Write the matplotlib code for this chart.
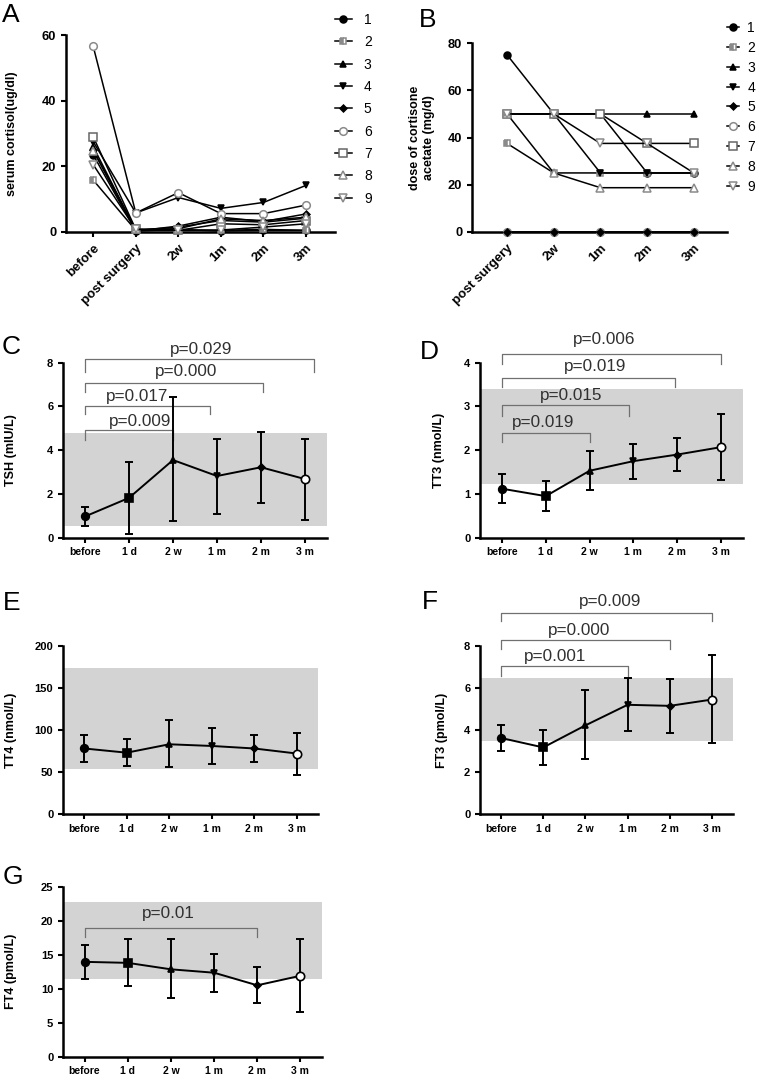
import numpy as np
import matplotlib
matplotlib.use("Agg")
import matplotlib.pyplot as plt

plt.rcParams['font.family'] = ['Liberation Sans', 'DejaVu Sans']

# ---------------- data ----------------
cortisol_times = ["before", "post surgery", "2w", "1m", "2m", "3m"]
cortisol = [
    [23.5, 0.3, 0.8, 0.3, 0.5, 0.5],     # 1
    [15.8, 0.5, 0.5, 0.5, 0.8, 0.5],     # 2
    [26.0, 0.5, 1.5, 3.5, 3.0, 4.2],     # 3
    [27.5, 5.8, 10.5, 7.2, 9.0, 14.2],   # 4
    [25.0, 0.3, 1.8, 4.5, 3.2, 5.5],     # 5
    [56.5, 5.8, 12.0, 5.6, 5.6, 8.2],    # 6
    [29.0, 0.8, 0.5, 2.5, 2.2, 3.5],     # 7
    [24.8, 0.8, 1.0, 4.0, 3.5, 4.5],     # 8
    [20.5, 0.8, 0.5, 0.6, 1.5, 2.5],     # 9
]
patients = ["1", "2", "3", "4", "5", "6", "7", "8", "9"]

dose_times = ["post surgery", "2w", "1m", "2m", "3m"]
dose = [
    [75, 50, 50, 25, 25],
    [37.5, 25, 25, 25, 25],
    [50, 50, 50, 50, 50],
    [50, 50, 25, 25, 25],
    [0, 0, 0, 0, 0],
    [0, 0, 0, 0, 0],
    [50, 50, 50, 37.5, 37.5],
    [50, 25, 18.75, 18.75, 18.75],
    [50, 50, 37.5, 37.5, 25],
]

thyroid_times = ["before", "1 d", "2 w", "1 m", "2 m", "3 m"]

tsh_mean = [0.97, 1.82, 3.55, 2.82, 3.22, 2.68]
tsh_hi = [1.42, 3.45, 6.45, 4.52, 4.85, 4.52]
tsh_lo = [0.52, 0.18, 0.75, 1.07, 1.60, 0.83]
tsh_ref = [0.55, 4.78]
tsh_p = ["p=0.009", "p=0.017", "p=0.000", "p=0.029"]
tsh_p_end = [2, 2.85, 4.05, 5.2]

tt3_mean = [1.12, 0.95, 1.53, 1.75, 1.90, 2.07]
tt3_hi = [1.45, 1.30, 1.98, 2.15, 2.28, 2.82]
tt3_lo = [0.80, 0.62, 1.10, 1.35, 1.53, 1.33]
tt3_ref = [1.23, 3.40]
tt3_p = ["p=0.019", "p=0.015", "p=0.019", "p=0.006"]
tt3_p_end = [2, 2.9, 3.95, 5]

tt4_mean = [78, 73, 83, 81, 78, 72]
tt4_hi = [94, 89, 112, 102, 94, 96]
tt4_lo = [62, 57, 55.5, 60, 62, 47]
tt4_ref = [54, 174]

ft3_mean = [3.62, 3.17, 4.22, 5.20, 5.15, 5.45]
ft3_hi = [4.25, 3.98, 5.92, 6.48, 6.45, 7.55]
ft3_lo = [3.02, 2.35, 2.60, 3.93, 3.87, 3.37]
ft3_ref = [3.5, 6.5]
ft3_p = ["p=0.001", "p=0.000", "p=0.009"]
ft3_p_end = [3, 4, 5]

ft4_mean = [13.95, 13.8, 12.85, 12.35, 10.5, 11.9]
ft4_hi = [16.5, 17.3, 17.25, 15.1, 13.2, 17.25]
ft4_lo = [11.4, 10.4, 8.65, 9.55, 7.85, 6.6]
ft4_ref = [11.5, 22.7]
ft4_p = ["p=0.01"]
ft4_p_end = [4]

# bracket layout: (top, tick bottom, text x, text y)
tsh_br = [(4.92, 4.47, 1.25, 5.33), (6.02, 5.64, 1.18, 6.45),
          (7.06, 6.68, 2.3, 7.62), (8.16, 7.59, 2.65, 8.61)]
tt3_br = [(2.40, 2.19, 0.95, 2.63), (3.04, 2.78, 1.58, 3.26),
          (3.66, 3.45, 2.13, 3.92), (4.21, 3.98, 2.34, 4.53)]
ft3_br = [(7.04, 6.56, 1.28, 7.48), (8.30, 7.88, 1.85, 8.75),
          (9.59, 9.19, 2.58, 10.14)]
ft4_br = [(18.97, 17.55, 1.95, 21.1)]

W, H = 762, 1082
GREY = '#8a8a8a'
BAND = '#d3d3d3'

# marker style per patient
pat_style = [
    dict(marker='o', mfc='k', mec='k', ms=5),
    dict(marker='s', mfc=GREY, mfcalt='white', fillstyle='left', mec=GREY, ms=4.5),
    dict(marker='^', mfc='k', mec='k', ms=5),
    dict(marker='v', mfc='k', mec='k', ms=5),
    dict(marker='D', mfc='k', mec='k', ms=3.5),
    dict(marker='o', mfc='white', mec=GREY, ms=5.5),
    dict(marker='s', mfc='white', mec='#666666', ms=5.5),
    dict(marker='^', mfc='white', mec=GREY, ms=5.5),
    dict(marker='v', mfc='white', mec=GREY, ms=5.5),
]


def px_axes(fig, left, top, right, bottom):
    return fig.add_axes([left / W, 1 - bottom / H, (right - left) / W, (bottom - top) / H])


def style(ax, yticks, ylabel, label_x, ysize=8):
    for s in ['top', 'right']:
        ax.spines[s].set_visible(False)
    for s in ['left', 'bottom']:
        ax.spines[s].set_linewidth(1.8)
    ax.tick_params(width=1.5, length=3.5)
    ax.set_yticks(yticks, labels=[str(v) for v in yticks], fontweight='bold', fontsize=ysize)
    ax.set_ylim(yticks[0], yticks[-1])
    ax.set_ylabel(ylabel, fontsize=9, fontweight='bold')
    ax.yaxis.set_label_coords(label_x, 0.5)


def thyroid(ax, mean, lo, hi, ref, yticks, ylabel, label_x, pvals=(), ends=(), br=()):
    x = np.arange(len(mean))
    mean = np.array(mean)
    yerr = [mean - np.array(lo), np.array(hi) - mean]
    ax.axhspan(ref[0], ref[1], color=BAND, lw=0, zorder=0)
    ax.errorbar(x, mean, yerr=yerr, fmt='-', color='k', lw=1.4, elinewidth=1.4,
                capsize=3, capthick=1.4, zorder=3, clip_on=False)
    mk = ['o', 's', '^', 'v', 'D', 'o']
    fc = ['k', 'k', 'k', 'k', 'k', 'white']
    ms = [5.5, 5.5, 5, 5, 3.5, 6]
    for i in range(len(mean)):
        ax.plot(x[i], mean[i], marker=mk[i], mfc=fc[i], mec='k', mew=1.2, ms=ms[i], zorder=4)
    for p, e, (top, bot, tx, ty) in zip(pvals, ends, br):
        ax.plot([0, 0, e, e], [bot, top, top, bot], color='#707070', lw=0.9, clip_on=False)
        ax.text(tx, ty, p, ha='center', va='center', fontsize=12.3, color='#303030')
    ax.set_xlim(-0.5, 5.5)
    ax.set_xticks(x, labels=thyroid_times, fontweight='bold', fontsize=7.5)
    style(ax, yticks, ylabel, label_x)


fig = plt.figure(figsize=(W / 100, H / 100), dpi=100)

# A
axA = px_axes(fig, 66, 35, 335, 232)
for i, vals in enumerate(cortisol):
    axA.plot(range(6), vals, color='k', lw=1.1, mew=1.1, clip_on=False,
             label=patients[i], zorder=3, **pat_style[i])
axA.set_xlim(-0.64, 5.68)
axA.set_xticks(range(6), labels=cortisol_times, rotation=45, ha='right',
               rotation_mode='anchor', fontweight='bold', fontsize=9.5)
style(axA, [0, 20, 40, 60], 'serum cortisol(ug/dl)', -0.178, ysize=9.3)
axA.legend(loc='upper left', bbox_to_anchor=(335 / W, 1 - 13 / H), bbox_transform=fig.transFigure,
           frameon=False, fontsize=10, handlelength=1.22, handletextpad=0.86,
           labelspacing=0.6, borderaxespad=0, borderpad=0)

# B
axB = px_axes(fig, 472, 43, 727, 232)
for i, vals in enumerate(dose):
    # patient 5 (black diamond) sits on top of the zero line markers
    z = 4 if i == 4 else 3
    axB.plot(range(5), vals, color='k', lw=1.1, mew=1.1, clip_on=False,
             label=patients[i], zorder=z, **pat_style[i])
axB.set_xlim(-0.75, 4.71)
axB.set_xticks(range(5), labels=dose_times, rotation=45, ha='right',
               rotation_mode='anchor', fontweight='bold', fontsize=9.5)
style(axB, [0, 20, 40, 60, 80], 'dose of cortisone\nacetate (mg/d)', -0.145, ysize=9.3)
axB.legend(loc='upper left', bbox_to_anchor=(727 / W, 1 - 21 / H), bbox_transform=fig.transFigure,
           frameon=False, fontsize=10, handlelength=0.85, handletextpad=0.6,
           labelspacing=0.42, borderaxespad=0, borderpad=0)

# C - G
axC = px_axes(fig, 63, 362.7, 327, 537.7)
thyroid(axC, tsh_mean, tsh_lo, tsh_hi, tsh_ref, [0, 2, 4, 6, 8], 'TSH (mIU/L)', -0.174,
        tsh_p, tsh_p_end, tsh_br)
axD = px_axes(fig, 480, 362.7, 743, 537.7)
thyroid(axD, tt3_mean, tt3_lo, tt3_hi, tt3_ref, [0, 1, 2, 3, 4], 'TT3 (nmol/L)', -0.133,
        tt3_p, tt3_p_end, tt3_br)
axE = px_axes(fig, 63, 646, 318, 814)
thyroid(axE, tt4_mean, tt4_lo, tt4_hi, tt4_ref, [0, 50, 100, 150, 200], 'TT4 (nmol/L)', -0.18)
axF = px_axes(fig, 480, 646, 733, 814)
thyroid(axF, ft3_mean, ft3_lo, ft3_hi, ft3_ref, [0, 2, 4, 6, 8], 'FT3 (pmol/L)', -0.126,
        ft3_p, ft3_p_end, ft3_br)
axG = px_axes(fig, 63, 886.7, 322, 1056.7)
thyroid(axG, ft4_mean, ft4_lo, ft4_hi, ft4_ref, [0, 5, 10, 15, 20, 25], 'FT4 (pmol/L)', -0.178,
        ft4_p, ft4_p_end, ft4_br)

# panel letters
for letter, x, y in [('A', 2, 3), ('B', 419, 8), ('C', 2, 335), ('D', 420, 340),
                     ('E', 3, 591), ('F', 422, 590), ('G', 3, 865)]:
    fig.text(x / W, 1 - y / H, letter, fontsize=19, va='top', ha='left')

fig.savefig('out.png', dpi=100)
